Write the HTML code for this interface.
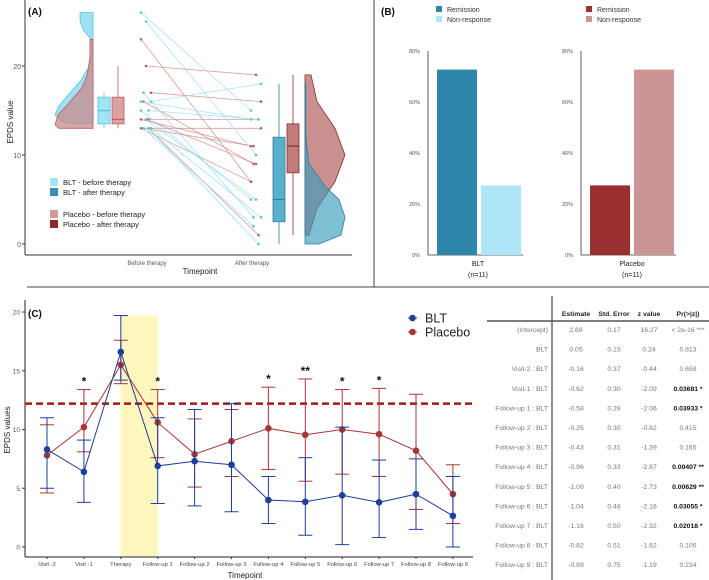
<!DOCTYPE html>
<html><head><meta charset="utf-8"><style>
body{margin:0;background:#fff;width:709px;height:580px;overflow:hidden;font-family:"Liberation Sans",sans-serif}
svg{display:block}
text{font-family:"Liberation Sans",sans-serif}
</style></head><body>
<svg id="fig" width="709" height="580" viewBox="0 0 709 580">
<g id="gA"></g>
<g id="gB"></g>
<g id="gC"></g>
<g id="gT"></g>
<line x1="374" y1="0" x2="374" y2="287" stroke="#444" stroke-width="1"/>
<line x1="27" y1="287" x2="709" y2="287" stroke="#444" stroke-width="1"/>
</svg>
<script>
// ---------- Panel A data ----------
const bltBefore=[26,25,16,17,15,15,14,13,13,13,16];
const bltAfter=[15,10,18,3,14,5,5,3,2,0,14];
const plaBefore=[23,20,17,16,14,14,14,13,13,13,13];
const plaAfter=[7,19,16,9,14,11,9,13,11,1,7];
const boxBltBefore=[13,13.5,15,16.5,17];
const boxPlaBefore=[13,13.5,14,16.5,20];
const boxBltAfter=[0,2.5,5,12,18];
const boxPlaAfter=[1,8,11,13.5,19];
// violin profiles [value, relative density]
const vioBltBefore=[[13.5,0.5],[13.8,0.85],[14.5,1],[15.5,0.9],[17,0.6],[18.5,0.3],[20,0.1],[21.5,0.02],[23,0.05],[24,0.25],[25,0.34],[26,0.34]];
const vioPlaBefore=[[13,0.9],[13.4,1],[14.5,0.92],[16,0.6],[17.5,0.3],[19,0.15],[21,0.08],[23,0.08]];
const vioBltAfter=[[0,0.35],[1,0.9],[3,1],[5,0.85],[6.5,0.5],[9,0.1],[12,0.02],[18,0.02]];
const vioPlaAfter=[[1,0.1],[4,0.3],[7,0.75],[10,1],[13,0.75],[16,0.3],[18,0.2],[19,0.15]];
// ---------- Panel B data ----------
const bCats=["Remission","Non-response"];
const bltPct=[72.7,27.3];
const plaPct=[27.3,72.7];
const bTicks=[0,20,40,60,80];
// ---------- Panel C data ----------
const cCats=["Visit -2","Visit -1","Therapy","Follow-up 1","Follow-up 2","Follow-up 3","Follow-up 4","Follow-up 5","Follow-up 6","Follow-up 7","Follow-up 8","Follow-up 9"];
const bltMean=[8.3,6.4,16.6,6.9,7.3,7.0,4.0,3.85,4.4,3.8,4.5,2.65];
const bltLo=[5.0,3.8,14.2,3.7,3.5,3.0,2.0,1.0,0.2,0.8,1.5,0.0];
const bltHi=[11.0,9.1,19.7,11.0,11.7,12.2,6.0,7.6,10.2,7.4,7.5,6.0];
const plaMean=[7.8,10.2,15.5,10.6,7.9,9.0,10.1,9.55,10.0,9.6,8.2,4.5];
const plaLo=[4.6,8.1,13.9,7.6,5.1,6.0,6.6,5.6,6.2,6.0,3.2,2.0];
const plaHi=[10.4,13.4,17.6,13.4,10.9,11.7,13.6,14.3,13.4,13.5,13.0,7.0];
const stars=["","*","","*","","","*","**","*","*","",""];
const cTicks=[0,5,10,15,20];
const cutoff=12.2;
// ---------- Table data ----------
const tHead=["Estimate","Std. Error","z value","Pr(>|z|)"];
const tRows=["(Intercept)","BLT","Visit-2 : BLT","Visit-1 : BLT","Follow-up 1 : BLT","Follow-up 2 : BLT","Follow-up 3 : BLT","Follow-up 4 : BLT","Follow-up 5 : BLT","Follow-up 6 : BLT","Follow-up 7 : BLT","Follow-up 8 : BLT","Follow-up 9 : BLT"];
const tEst=["2.69","0.05","-0.16","-0.62","-0.58","-0.25","-0.43","-0.96","-1.09","-1.04","-1.16","-0.82","-0.89"];
const tSE=["0.17","0.23","0.37","0.30","0.28","0.30","0.31","0.33","0.40","0.48","0.50","0.51","0.75"];
const tZ=["16.27","0.24","-0.44","-2.09","-2.06","-0.82","-1.39","-2.87","-2.73","-2.16","-2.32","-1.62","-1.19"];
const tP=["< 2e-16 ***","0.813","0.658","0.03681 *","0.03933 *","0.415","0.165","0.00407 **","0.00629 **","0.03055 *","0.02018 *","0.105","0.234"];
const tBold=[false,false,false,true,true,false,false,true,true,true,true,false,false];

const NS="http://www.w3.org/2000/svg";
function mk(parent,tag,attrs,txt){const e=document.createElementNS(NS,tag);for(const k in attrs)e.setAttribute(k,attrs[k]);if(txt!==undefined)e.textContent=txt;parent.appendChild(e);return e;}

// ===== Panel A =====
(function(){
const g=document.getElementById('gA');
const yA=v=>244-8.9*v;
let e;
e=mk(g,'line',{x1:25,y1:0,x2:25,y2:255,stroke:'#333','stroke-width':1});

e=mk(g,'line',{x1:25,y1:255,x2:352,y2:255,stroke:'#333','stroke-width':1});

[0,10,20].forEach(t=>{
 e=mk(g,'text',{x:21,y:yA(t)+3,'font-size':7,fill:'#555','text-anchor':'end'},t);
 
 mk(g,'line',{x1:22,y1:yA(t),x2:25,y2:yA(t),stroke:'#333'});
});
e=mk(g,'text',{x:13,y:122,'font-size':8,fill:'#222','text-anchor':'middle',transform:'rotate(-90 13 122)'},'EPDS value');

e=mk(g,'text',{x:147,y:265,'font-size':6,fill:'#555','text-anchor':'middle'},'Before therapy');

e=mk(g,'text',{x:252,y:265,'font-size':6,fill:'#555','text-anchor':'middle'},'After therapy');

e=mk(g,'text',{x:200,y:274,'font-size':8,fill:'#222','text-anchor':'middle'},'Timepoint');

e=mk(g,'text',{x:28,y:15,'font-size':10,'font-weight':'bold',fill:'#111'},'(A)');

function violin(prof,edge,dir,wmax,fill,stroke,op,name){
 let d=`M${edge},${yA(prof[0][0])}`;
 prof.forEach(p=>{d+=` L${edge+dir*p[1]*wmax},${yA(p[0])}`;});
 d+=` L${edge},${yA(prof[prof.length-1][0])} Z`;
 const el=mk(g,'path',{d:d,fill:fill,'fill-opacity':op,stroke:stroke,'stroke-width':0.8});
 
}
violin(vioBltBefore,93,-1,38,'#8fdcf2','#4fc3e3',0.85,'violin-blt-before');
violin(vioPlaBefore,93,-1,38,'#c98a8a','#c05a5a',0.75,'violin-placebo-before');
violin(vioPlaAfter,305,1,40,'#b86b6b','#8e2a2a',0.75,'violin-placebo-after');
violin(vioBltAfter,305,1,40,'#3a9cbc','#2a7f9e',0.65,'violin-blt-after');
function box(s,x0,w,fill,stroke,name){
 const gg=mk(g,'g',{});
 const cx=x0+w/2;
 mk(gg,'line',{x1:cx,y1:yA(s[0]),x2:cx,y2:yA(s[4]),stroke:stroke,'stroke-width':0.8});
 mk(gg,'rect',{x:x0,y:yA(s[3]),width:w,height:yA(s[1])-yA(s[3]),fill:fill,stroke:stroke,'stroke-width':0.8});
 mk(gg,'line',{x1:x0,y1:yA(s[2]),x2:x0+w,y2:yA(s[2]),stroke:stroke,'stroke-width':1.2});
}
box(boxBltBefore,98,12,'#a5e4f5','#4fc3e3','box-blt-before');
box(boxPlaBefore,112,12,'#dba0a0','#c05a5a','box-placebo-before');
box(boxBltAfter,273,12,'#5aafca','#2a7f9e','box-blt-after');
box(boxPlaAfter,287,12,'#c07c7c','#8e2a2a','box-placebo-after');
function pairs(b,a,col,dcol,name){
 b.forEach((v,i)=>{
  const j=((i*7)%5-2)*2.5;
  const x1=146+j,x2=256+j;
  const l=mk(g,'line',{x1:x1,y1:yA(v),x2:x2,y2:yA(a[i]),stroke:col,'stroke-width':0.8,'stroke-opacity':0.8});
  
  let c=mk(g,'circle',{cx:x1,cy:yA(v),r:1.3,fill:dcol});
  
  c=mk(g,'circle',{cx:x2,cy:yA(a[i]),r:1.3,fill:dcol});
  
 });
}
pairs(plaBefore,plaAfter,'#d08585','#b96060','placebo');
pairs(bltBefore,bltAfter,'#8fdcf2','#5fc0dc','blt');
const leg=[['#a5e4f5','BLT - before therapy',185],['#3a8fae','BLT - after therapy',195],['#d49a9a','Placebo - before therapy',217],['#8e2a2a','Placebo - after therapy',227]];
leg.forEach(l=>{
 let r=mk(g,'rect',{x:50,y:l[2]-7,width:8,height:8,fill:l[0]});
 
 let t=mk(g,'text',{x:63,y:l[2],'font-size':7.5,fill:'#222'},l[1]);
 
});
})();

// ===== Panel B =====
(function(){
const g=document.getElementById('gB');
const yB=v=>255-2.55*v;
let e=mk(g,'text',{x:381,y:15,'font-size':10,'font-weight':'bold',fill:'#111'},'(B)');

function chart(ax,vals,cols,label,lx,name){
 let a=mk(g,'line',{x1:ax,y1:51,x2:ax,y2:255,stroke:'#333','stroke-width':0.8});
 
 a=mk(g,'line',{x1:ax,y1:255,x2:ax+95,y2:255,stroke:'#333','stroke-width':0.8});
 
 bTicks.forEach(t=>{
  const tt=mk(g,'text',{x:ax-8,y:yB(t)+2,'font-size':5.5,fill:'#555','text-anchor':'end'},t+'%');
  
 });
 vals.forEach((v,i)=>{
  const r=mk(g,'rect',{x:ax+9+i*44,y:yB(v),width:40,height:255-yB(v),fill:cols[i]});
  
 });
 let t=mk(g,'text',{x:lx,y:266,'font-size':7,fill:'#222','text-anchor':'middle'},label);
 
 t=mk(g,'text',{x:lx,y:277,'font-size':7,fill:'#222','text-anchor':'middle'},'(n=11)');
 
}
chart(428,bltPct,['#2e86ab','#aee6f7'],'BLT',478,'blt');
chart(581,plaPct,['#9b3030','#cc9595'],'Placebo',632,'placebo');
function legend(x,cols){
 bCats.forEach((c,i)=>{
  let r=mk(g,'rect',{x:x,y:6+i*10,width:6,height:6,fill:cols[i]});
  
  let t=mk(g,'text',{x:x+11,y:12+i*10,'font-size':7,fill:'#333'},c);
  
 });
}
legend(436,['#2e86ab','#aee6f7']);
legend(586,['#9b3030','#cc9595']);
})();

// ===== Panel C =====
(function(){
const g=document.getElementById('gC');
const xC=i=>47+i*36.9;
const yC=v=>547-11.75*v;
let e=mk(g,'rect',{x:xC(2),y:yC(19.7),width:xC(3)-xC(2),height:556-yC(19.7),fill:'#fdf6bd'});

e=mk(g,'line',{x1:25,y1:300,x2:25,y2:557,stroke:'#222','stroke-width':1});

e=mk(g,'line',{x1:25,y1:557,x2:473,y2:557,stroke:'#222','stroke-width':1});

cTicks.forEach(t=>{
 const tt=mk(g,'text',{x:20,y:yC(t)+2.5,'font-size':6.5,fill:'#555','text-anchor':'end'},t);
 
 mk(g,'line',{x1:22,y1:yC(t),x2:25,y2:yC(t),stroke:'#333'});
});
cCats.forEach((c,i)=>{
 const tt=mk(g,'text',{x:xC(i),y:566,'font-size':5.8,fill:'#444','text-anchor':'middle'},c);
 
 mk(g,'line',{x1:xC(i),y1:557,x2:xC(i),y2:559,stroke:'#333'});
});
e=mk(g,'text',{x:245,y:578,'font-size':8,fill:'#222','text-anchor':'middle'},'Timepoint');

e=mk(g,'text',{x:10,y:430,'font-size':8,fill:'#222','text-anchor':'middle',transform:'rotate(-90 10 430)'},'EPDS values');

e=mk(g,'text',{x:28,y:317,'font-size':10,'font-weight':'bold',fill:'#111'},'(C)');

e=mk(g,'line',{x1:25,y1:yC(cutoff),x2:473,y2:yC(cutoff),stroke:'#a01818','stroke-width':2.5,'stroke-dasharray':'7,4'});

function series(m,lo,hi,col,name){
 cCats.forEach((c,i)=>{
  const gg=mk(g,'g',{stroke:col,'stroke-width':1,fill:'none'});
  
  const x=xC(i);
  mk(gg,'line',{x1:x,y1:yC(lo[i]),x2:x,y2:yC(hi[i])});
  mk(gg,'line',{x1:x-7,y1:yC(lo[i]),x2:x+7,y2:yC(lo[i])});
  mk(gg,'line',{x1:x-7,y1:yC(hi[i]),x2:x+7,y2:yC(hi[i])});
 });
 const pl=mk(g,'polyline',{points:m.map((v,i)=>xC(i)+','+yC(v)).join(' '),fill:'none',stroke:col,'stroke-width':1});
 
 m.forEach((v,i)=>{
  const c=mk(g,'circle',{cx:xC(i),cy:yC(v),r:3.3,fill:col});
  
 });
}
series(plaMean,plaLo,plaHi,'#a83636','placebo');
series(bltMean,bltLo,bltHi,'#1f3d99','blt');
stars.forEach((s,i)=>{
 if(!s)return;
 const t=mk(g,'text',{x:xC(i),y:yC(Math.max(plaHi[i],bltHi[i]))-4,'font-size':12,'font-weight':'bold',fill:'#111','text-anchor':'middle'},s);
 
});
[['#1f3d99','BLT',318],['#a83636','Placebo',332]].forEach(l=>{
 mk(g,'line',{x1:408,y1:l[2],x2:417,y2:l[2],stroke:l[0],'stroke-width':1});
 let c=mk(g,'circle',{cx:412.5,cy:l[2],r:3.3,fill:l[0]});
 
 let t=mk(g,'text',{x:425,y:l[2]+4.5,'font-size':12.5,fill:'#222'},l[1]);
 
});
})();

// ===== Table =====
(function(){
const g=document.getElementById('gT');
let e=mk(g,'line',{x1:552,y1:296,x2:552,y2:580,stroke:'#222','stroke-width':1});

e=mk(g,'line',{x1:487,y1:321,x2:709,y2:321,stroke:'#555','stroke-width':1.5});

const cx=[576,614,649,688];
tHead.forEach((h,i)=>{
 const t=mk(g,'text',{x:cx[i],y:316,'font-size':6.8,'font-weight':'bold',fill:'#222','text-anchor':'middle'},h);
 
});
tRows.forEach((r,k)=>{
 const y=332+k*19.6;
 let t=mk(g,'text',{x:548,y:y,'font-size':6.8,fill:'#777','text-anchor':'end'},r);
 
 [tEst[k],tSE[k],tZ[k]].forEach((v,i)=>{
  const c=mk(g,'text',{x:cx[i],y:y,'font-size':6.8,fill:'#777','text-anchor':'middle'},v);
  
 });
 const p=mk(g,'text',{x:cx[3],y:y,'font-size':6.8,fill:tBold[k]?'#111':'#777','font-weight':tBold[k]?'bold':'normal','text-anchor':'middle'},tP[k]);
 
});
})();
</script>
</body></html>
